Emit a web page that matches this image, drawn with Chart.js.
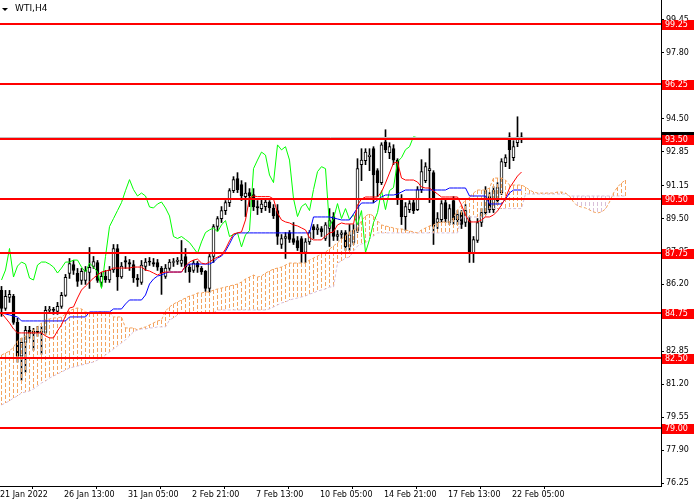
<!DOCTYPE html>
<html>
<head>
<meta charset="utf-8">
<script src="https://cdn.jsdelivr.net/npm/chart.js@4.4.0/dist/chart.umd.min.js"></script>
<style>
  html, body { margin: 0; padding: 0; background: #fff; }
  canvas { display: block; }
</style>
</head>
<body>
<canvas id="wti" width="700" height="500"></canvas>
<script>
// WTI H4 candles, 131 bars
const opens = [
  85.9, 85.0, 85.55, 85.6, 84.3, 82.6, 83.3, 83.9, 83.75, 83.85,
  83.8, 83.8, 84.9, 84.95, 84.85, 85.1, 85.65, 86.75, 87.2, 86.75,
  86.4, 86.4, 86.8, 87.1, 87.3, 86.3, 86.6, 86.42, 86.92, 88.0,
  86.57, 87.4, 87.3, 87.2, 86.52, 86.3, 87.1, 87.35, 87.3, 87.3,
  87.0, 86.6, 87.0, 87.3, 87.35, 87.25, 87.6, 87.07, 86.9, 87.27,
  87.0, 86.85, 86.0, 87.6, 89.1, 89.5, 89.9, 90.3, 90.9, 91.5,
  91.2, 90.6, 90.8, 90.7, 90.1, 90.0, 90.1, 90.33, 90.03, 89.9,
  88.2, 88.5, 88.8, 88.5, 88.4, 88.5, 87.8, 88.33, 89.1, 88.93,
  89.0, 88.5, 89.0, 89.6, 88.6, 88.7, 88.8, 88.1, 88.3, 88.9,
  92.2, 92.4, 92.6, 93.0, 91.9, 91.3, 93.35, 92.8, 93.0, 92.43,
  90.5, 89.6, 89.95, 90.3, 89.95, 90.95, 91.4, 91.9, 91.8, 89.3,
  89.45, 90.3, 89.3, 90.4, 89.45, 89.8, 89.3, 89.4, 87.75, 88.4,
  89.3, 89.8, 90.6, 89.95, 90.4, 90.8, 92.3, 93.6, 92.55, 93.3,
  93.6
];
const highs = [
  86.1, 85.9, 85.9, 85.7, 84.5, 83.5, 84.1, 84.1, 84.0, 84.1,
  84.1, 85.1, 85.1, 85.05, 85.3, 85.8, 86.7, 87.5, 87.4, 87.0,
  87.0, 87.1, 88.05, 87.6, 87.4, 86.8, 86.9, 87.1, 88.2, 88.2,
  87.3, 87.6, 87.45, 87.4, 86.7, 87.4, 87.5, 87.55, 87.5, 87.45,
  87.1, 87.2, 87.45, 87.5, 87.55, 88.4, 88.0, 87.2, 87.4, 87.35,
  87.1, 86.9, 87.7, 89.2, 89.6, 90.1, 90.4, 91.0, 91.6, 91.8,
  91.4, 91.3, 91.0, 91.0, 90.4, 90.5, 90.5, 90.4, 90.2, 90.2,
  88.7, 88.8, 88.9, 89.3, 88.6, 88.6, 88.5, 88.9, 89.2, 89.2,
  89.1, 89.3, 90.0, 89.8, 88.9, 88.9, 88.9, 89.2, 89.2, 92.5,
  93.0, 93.0, 93.0, 93.1, 92.0, 93.3, 93.95, 93.3, 93.2, 92.5,
  90.7, 90.3, 90.4, 90.5, 91.1, 92.45, 92.3, 93.0, 91.9, 89.8,
  90.4, 90.5, 90.2, 90.6, 89.9, 89.9, 90.2, 89.6, 88.6, 89.5,
  90.0, 91.1, 90.8, 91.1, 91.3, 92.5, 92.7, 93.8, 93.4, 94.6,
  93.8
];
const lows = [
  84.6, 84.9, 85.3, 84.2, 82.3, 81.4, 81.8, 83.5, 82.9, 83.6,
  82.7, 83.7, 84.75, 84.7, 84.7, 85.0, 85.6, 86.5, 86.7, 86.1,
  86.2, 86.2, 86.0, 87.0, 86.3, 86.1, 86.3, 86.3, 86.8, 85.9,
  86.5, 87.0, 86.9, 86.3, 86.1, 86.2, 86.9, 87.15, 87.1, 86.9,
  85.7, 86.5, 86.9, 87.1, 87.2, 87.1, 86.8, 86.3, 86.8, 86.8,
  86.7, 85.85, 85.8, 87.3, 88.9, 89.3, 89.7, 90.1, 90.8, 90.8,
  90.4, 89.6, 90.1, 89.9, 89.7, 89.8, 89.9, 89.8, 89.5, 88.2,
  88.0, 87.5, 88.3, 88.2, 87.9, 87.3, 87.3, 88.2, 88.5, 88.7,
  88.6, 88.4, 88.1, 88.4, 88.4, 88.5, 87.9, 87.9, 88.2, 88.8,
  91.4, 92.2, 91.9, 90.3, 90.6, 91.2, 92.8, 92.5, 92.2, 90.2,
  89.2, 88.9, 89.8, 89.75, 89.9, 90.8, 91.3, 90.3, 88.2, 89.0,
  89.3, 89.3, 89.2, 89.2, 89.2, 89.0, 89.1, 87.3, 87.3, 88.3,
  89.1, 89.7, 89.8, 89.8, 90.2, 90.7, 92.1, 92.0, 92.4, 93.1,
  93.3
];
const closes = [
  85.0, 85.6, 85.7, 84.3, 82.6, 83.3, 83.9, 83.75, 83.85, 83.8,
  83.85, 84.9, 84.95, 84.9, 85.1, 85.65, 86.55, 87.25, 86.9, 86.35,
  86.85, 86.9, 87.05, 87.35, 86.4, 86.6, 86.42, 86.92, 88.0, 86.57,
  87.12, 87.32, 87.22, 86.52, 86.42, 87.17, 87.32, 87.32, 87.22, 87.07,
  86.77, 87.02, 87.32, 87.32, 87.42, 87.42, 87.07, 86.82, 87.27, 87.07,
  86.82, 86.0, 87.6, 89.1, 89.5, 89.9, 90.3, 90.9, 91.45, 90.95,
  90.63, 90.78, 90.63, 90.08, 90.03, 90.23, 90.33, 90.03, 89.63, 88.6,
  88.5, 88.6, 88.45, 88.3, 88.03, 87.75, 88.33, 88.8, 88.93, 89.03,
  88.83, 89.18, 89.4, 88.6, 88.7, 88.78, 88.08, 88.68, 88.9, 92.0,
  92.43, 92.83, 92.68, 91.68, 91.3, 93.19, 92.94, 93.1, 92.43, 90.5,
  89.6, 90.1, 90.25, 89.9, 90.95, 91.85, 92.1, 92.0, 89.1, 89.5,
  90.25, 89.5, 90.0, 89.45, 89.7, 89.2, 89.9, 87.8, 88.45, 89.3,
  89.8, 90.9, 89.95, 90.9, 91.05, 92.35, 92.55, 92.95, 93.1, 93.6,
  93.55
];

// Ichimoku lines
const tenkan = [
  84.77, 84.52, 84.27, 83.97, 83.77, 83.77, 83.77, 83.77, 83.77, 83.77,
  83.77, 83.62, 83.52, 83.52, 83.87, 84.17, 84.62, 85.02, 85.07, 85.52,
  85.92, 86.12, 86.32, 86.52, 86.67, 86.82, 86.87, 86.92, 87.02, 87.02,
  87.02, 87.02, 87.02, 87.07, 87.07, 87.07, 86.92, 86.87, 86.77, 86.67,
  86.77, 86.82, 86.82, 86.82, 86.82, 86.82, 87.12, 87.32, 87.42, 87.47,
  87.27, 87.22, 87.32, 87.47, 87.57, 87.67, 87.97, 88.38, 88.73, 88.78,
  88.83, 89.43, 90.53, 90.63, 90.6, 90.6, 90.6, 90.6, 90.48, 89.78,
  89.43, 89.33, 89.28, 89.18, 89.13, 89.03, 88.93, 88.53, 88.43, 88.43,
  88.43, 88.63, 88.78, 88.83, 89.18, 89.28, 89.23, 89.23, 89.23, 90.18,
  90.48, 90.58, 90.58, 90.58, 90.58, 90.83, 91.28, 91.78, 92.28, 92.33,
  91.53, 91.43, 91.43, 91.43, 91.33, 91.08, 91.03, 91.03, 90.88, 90.73,
  90.58, 90.58, 90.58, 90.58, 90.58, 90.18, 89.68, 89.33, 89.33, 89.33,
  89.43, 89.58, 89.58, 89.68, 89.88, 90.18, 90.53, 91.03, 91.33, 91.63,
  91.83
];
const kijun = [
  84.77, 84.72, 84.67, 84.62, 84.57, 84.37, 84.37, 84.37, 84.37, 84.37,
  84.37, 84.37, 84.37, 84.37, 84.37, 84.37, 84.37, 84.57, 84.57, 84.57,
  84.57, 84.57, 84.82, 84.82, 84.82, 84.82, 84.82, 84.82, 84.97, 84.97,
  84.97, 85.22, 85.42, 85.42, 85.42, 85.42, 85.67, 86.22, 86.47, 86.62,
  86.67, 86.77, 86.82, 86.82, 86.82, 86.82, 87.12, 87.22, 87.22, 87.22,
  87.22, 87.22, 87.22, 87.32, 87.52, 87.62, 87.87, 88.23, 88.63, 88.78,
  88.78, 88.78, 88.78, 88.78, 88.78, 88.78, 88.78, 88.78, 88.78, 88.78,
  88.78, 88.78, 88.78, 88.78, 88.78, 88.78, 88.78, 88.78, 89.58, 89.58,
  89.58, 89.58, 89.58, 89.53, 89.48, 89.43, 89.43, 89.43, 89.73, 90.03,
  90.28, 90.28, 90.28, 90.28, 90.43, 90.58, 90.68, 90.68, 90.68, 90.73,
  90.83, 90.93, 90.93, 90.93, 90.93, 90.93, 90.93, 90.93, 90.93, 90.93,
  90.93, 90.93, 91.03, 91.03, 91.03, 91.03, 91.03, 90.63, 90.63, 90.63,
  90.63, 90.63, 90.23, 90.23, 90.23, 90.23, 90.48, 90.78, 90.93, 90.93,
  90.93
];
// cloud runs 26 bars past the last candle (157 values)
const spanA = [
  82.66, 82.76, 82.86, 83.06, 83.37, 83.52, 83.62, 83.77, 83.92, 84.07,
  84.27, 84.42, 84.47, 84.52, 84.52, 84.57, 84.72, 84.87, 84.97, 85.02,
  84.97, 84.82, 84.77, 84.77, 84.82, 84.82, 84.82, 84.77, 84.57, 84.57,
  84.57, 84.02, 84.02, 84.02, 83.92, 84.02, 84.07, 84.17, 84.27, 84.37,
  84.42, 84.87, 85.07, 85.22, 85.32, 85.42, 85.52, 85.62, 85.67, 85.77,
  85.77, 85.82, 85.82, 85.92, 85.97, 86.02, 86.07, 86.12, 86.17, 86.22,
  86.32, 86.47, 86.57, 86.67, 86.57, 86.62, 86.77, 86.87, 86.97, 87.02,
  87.07, 87.17, 87.27, 87.27, 87.27, 87.27, 87.27, 87.42, 87.52, 87.62,
  87.72, 87.82, 87.97, 88.13, 88.28, 88.48, 88.63, 88.83, 88.93, 89.03,
  89.38, 89.63, 89.73, 89.63, 89.38, 89.18, 89.13, 89.08, 89.03, 88.98,
  88.98, 88.93, 88.88, 88.83, 88.78, 88.93, 89.03, 89.13, 89.18, 89.28,
  89.33, 89.33, 89.33, 89.53, 89.93, 90.18, 90.43, 90.58, 90.78, 90.93,
  90.93, 90.93, 91.03, 91.53, 91.53, 91.53, 91.43, 91.18, 91.18, 91.18,
  91.18, 91.08, 90.93, 90.83, 90.78, 90.78, 90.78, 90.78, 90.78, 90.83,
  90.83, 90.78, 90.63, 90.33, 90.13, 90.08, 90.03, 89.93, 89.83, 89.78,
  89.83, 89.98, 90.33, 90.78, 91.08, 91.28, 91.43
];
const spanB = [
  80.16, 80.26, 80.36, 80.51, 80.61, 80.76, 80.81, 80.86, 80.96, 81.11,
  81.26, 81.36, 81.51, 81.61, 81.71, 81.81, 81.91, 82.01, 82.06, 82.11,
  82.16, 82.21, 82.26, 82.31, 82.41, 82.51, 82.66, 82.81, 82.96, 83.12,
  83.27, 83.42, 83.62, 83.82, 83.92, 83.97, 83.97, 84.02, 84.02, 84.07,
  84.07, 84.07, 84.42, 84.52, 84.67, 84.77, 84.77, 84.77, 84.77, 84.77,
  84.77, 84.77, 84.77, 84.77, 84.92, 84.92, 84.92, 84.92, 84.92, 84.92,
  84.92, 84.92, 84.92, 84.92, 84.92, 84.92, 84.92, 84.97, 85.07, 85.17,
  85.27, 85.32, 85.42, 85.47, 85.52, 85.57, 85.62, 85.72, 85.77, 85.87,
  85.92, 85.97, 86.07, 86.07, 87.27, 87.37, 87.52, 87.57, 87.87, 88.12,
  88.23, 88.28, 88.48, 88.63, 88.78, 88.78, 88.78, 88.78, 88.78, 88.78,
  88.78, 88.78, 88.78, 88.78, 88.78, 88.78, 88.78, 88.78, 88.78, 88.78,
  88.78, 88.78, 88.78, 88.78, 88.78, 89.58, 89.58, 89.58, 89.58, 89.58,
  89.58, 89.58, 90.03, 90.0, 90.0, 90.0, 90.0, 90.0, 90.0, 90.0,
  90.0, 90.73, 90.73, 90.73, 90.73, 90.73, 90.73, 90.73, 90.73, 90.73,
  90.73, 90.73, 90.63, 90.63, 90.63, 90.63, 90.63, 90.63, 90.63, 90.63,
  90.63, 90.63, 90.63, 90.63, 90.63, 90.63, 90.63
];
const CHIKOU_SHIFT = 26;

// horizontal levels drawn by hand on the chart
const levels = [99.25, 96.25, 93.50, 90.50, 87.75, 84.75, 82.50, 79.00];
const bidPrice = 93.57;

// axes
const priceTicks = [76.25, 77.90, 79.55, 81.20, 82.85, 84.55, 86.20, 87.85, 89.50, 91.15, 92.85, 94.50, 96.20, 97.80, 99.45];
const timeTickBars = [0, 16, 32, 48, 64, 80, 96, 112, 128];
const timeTickLabels = ['21 Jan 2022', '26 Jan 13:00', '31 Jan 05:00', '2 Feb 21:00', '7 Feb 13:00',
  '10 Feb 05:00', '14 Feb 21:00', '17 Feb 13:00', '22 Feb 05:00'];

const X_MIN = -0.375, X_MAX = 164.875;
const FONT = 'DejaVu Sans';
const BODY_INDEX = 5;

const pts = arr => arr.map((v, i) => ({ x: i, y: v }));

const overlay = {
  id: 'overlay',
  // cloud hatching: one dotted column per bar between span A and span B
  afterDatasetDraw(chart, args) {
    if (args.index !== BODY_INDEX) return;
    const { ctx, chartArea: a, scales: { x, y } } = chart;
    ctx.save();
    ctx.beginPath(); ctx.rect(a.left, a.top, a.width, a.height); ctx.clip();
    spanA.forEach((va, i) => {
      const vb = spanB[i];
      const px = Math.round(x.getPixelForValue(i) - 0.5);
      const top = Math.round(y.getPixelForValue(Math.max(va, vb)));
      const bot = Math.round(y.getPixelForValue(Math.min(va, vb)));
      ctx.fillStyle = va >= vb ? 'rgb(244,164,96)' : 'rgb(216,191,216)';
      for (let yy = top; yy < bot; yy += 6) {
        ctx.fillRect(px, yy, 1, Math.min(4, bot - yy));
      }
    });
    ctx.restore();
  },
  afterDatasetsDraw(chart) {
    const { ctx, chartArea: a, scales: { y } } = chart;
    ctx.save();
    const by = Math.round(y.getPixelForValue(bidPrice)) + 0.5;
    ctx.strokeStyle = '#c0c0c0';
    ctx.lineWidth = 1;
    ctx.beginPath(); ctx.moveTo(a.left, by); ctx.lineTo(a.right, by); ctx.stroke();
    ctx.strokeStyle = '#ff0000';
    ctx.lineWidth = 2;
    levels.forEach(v => {
      const py = Math.round(y.getPixelForValue(v));
      ctx.beginPath(); ctx.moveTo(a.left, py); ctx.lineTo(a.right, py); ctx.stroke();
    });
    ctx.restore();
  },
  afterDraw(chart) {
    const { ctx, chartArea: a, scales: { y } } = chart;
    ctx.save();
    ctx.font = '8px "' + FONT + '"';
    ctx.textBaseline = 'middle';
    // bid label, mostly hidden under the 93.50 box
    const by = Math.round(y.getPixelForValue(bidPrice));
    ctx.fillStyle = '#000';
    ctx.fillRect(a.right + 1, by - 5, 32, 11);
    levels.forEach(v => {
      const py = Math.round(y.getPixelForValue(v));
      ctx.fillStyle = '#ff0000';
      ctx.fillRect(a.right + 1, py - 4, 32, 10);
      ctx.fillStyle = '#fff';
      ctx.fillText(v.toFixed(2), a.right + 4, py + 1);
    });
    // symbol caption
    ctx.fillStyle = '#000';
    ctx.beginPath();
    ctx.moveTo(2, 8); ctx.lineTo(8, 8); ctx.lineTo(5, 11); ctx.closePath(); ctx.fill();
    ctx.font = '9px "' + FONT + '"';
    ctx.fillText('WTI,H4', 15, 9);
    ctx.restore();
  }
};

new Chart(document.getElementById('wti'), {
  type: 'line',
  data: {
    datasets: [
      { label: 'Tenkan', data: pts(tenkan), borderColor: '#ff0000', borderWidth: 1, pointRadius: 0, order: 1 },
      { label: 'Kijun', data: pts(kijun), borderColor: '#0000ff', borderWidth: 1, pointRadius: 0, order: 2 },
      { label: 'Chikou', data: closes.slice(CHIKOU_SHIFT).map((v, j) => ({ x: j, y: v })),
        borderColor: '#00ff00', borderWidth: 1, pointRadius: 0, order: 3 },
      { label: 'Span A', data: pts(spanA), borderColor: '#f4a460', borderWidth: 1, borderDash: [3, 2],
        pointRadius: 0, fill: false, order: 4 },
      { label: 'Span B', data: pts(spanB), borderColor: '#d8bfd8', borderWidth: 1, borderDash: [3, 2],
        pointRadius: 0, fill: false, order: 5 },
      { type: 'bar', label: 'Body', data: opens.map((o, i) => ({ x: i, y: [o, closes[i]] })),
        backgroundColor: opens.map((o, i) => closes[i] >= o ? '#ffffff' : '#000000'),
        borderColor: '#000', borderWidth: 1, borderSkipped: false, barThickness: 3, minBarLength: 1,
        grouped: false, order: 6 },
      { type: 'bar', label: 'Wick', data: lows.map((l, i) => ({ x: i, y: [l, highs[i]] })),
        backgroundColor: '#000', barThickness: 1, grouped: false, order: 7 }
    ]
  },
  options: {
    responsive: false,
    devicePixelRatio: 1,
    animation: false,
    events: [],
    layout: { padding: 0 },
    plugins: { legend: { display: false }, tooltip: { enabled: false } },
    elements: { line: { tension: 0 } },
    scales: {
      x: {
        type: 'linear', min: X_MIN, max: X_MAX, offset: false,
        grid: { display: true, drawOnChartArea: false, drawTicks: true, tickLength: 3, color: '#000' },
        border: { display: true, color: '#000' },
        ticks: {
          align: 'start', padding: 1, maxRotation: 0, autoSkip: false, color: '#000',
          font: { family: FONT, size: 8 },
          callback: (v, i) => timeTickLabels[i]
        },
        afterBuildTicks: s => { s.ticks = timeTickBars.map(b => ({ value: b + X_MIN })); },
        afterFit: s => { s.height = 14; s.paddingLeft = 0; s.paddingRight = 0; }
      },
      y: {
        type: 'linear', position: 'right', min: 76.10, max: 100.45,
        grid: { display: true, drawOnChartArea: false, drawTicks: true, tickLength: 3, color: '#000' },
        border: { display: true, color: '#000' },
        ticks: {
          padding: 2, color: '#000', font: { family: FONT, size: 8 },
          callback: v => v.toFixed(2)
        },
        afterBuildTicks: s => { s.ticks = priceTicks.map(v => ({ value: v })); },
        afterFit: s => { s.width = 39; s.paddingTop = 0; s.paddingBottom = 0; }
      }
    }
  },
  plugins: [overlay]
});
</script>
</body>
</html>
